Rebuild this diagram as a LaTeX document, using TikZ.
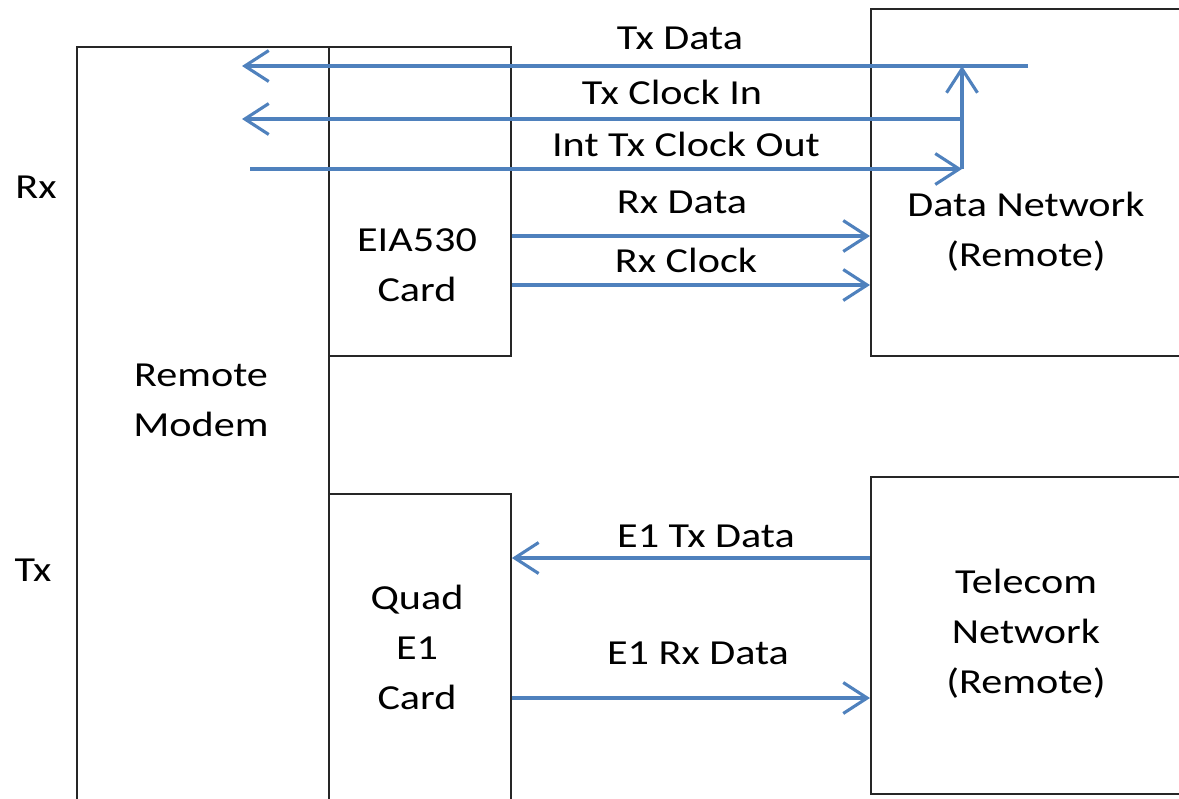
\documentclass[tikz,border=0pt]{standalone}
\usepackage{fontspec}
\setmainfont{Carlito}[FakeStretch=1.2]
\usepackage{xcolor}
\usepackage{tikz}
\usetikzlibrary{positioning, arrows.meta}
\definecolor{linkblue}{RGB}{79,129,189}

\begin{document}
\begin{tikzpicture}[x=0.025cm, y=-0.025cm, font=\fontsize{25}{35.5}\selectfont,
		box/.style={rectangle, draw=black!85, line width=1.3pt, inner sep=0pt, anchor=north west},
		sig/.style={draw=linkblue, line width=2.2pt, -{Straight Barb[length=17pt, width=22pt, line width=2.2pt]}},
		tag/.style={inner sep=0pt, align=center},
		lbl/.style={inner sep=0pt, anchor=base}]
		\useasboundingbox (0,0) rectangle (1179,798);
		\clip (0,0) rectangle (1179,798);
		
		% boxes
		\node[box, minimum width=6.3cm, minimum height=20cm] (modem) at (76,46) {};
		\node[box, minimum width=4.55cm, minimum height=7.725cm] (eia) at (328,46) {};
		\node[box, minimum width=4.55cm, minimum height=8cm] (quad) at (328,493) {};
		\node[box, minimum width=8.5cm, minimum height=8.675cm] (data) at (870,8) {};
		\node[box, minimum width=8.5cm, minimum height=7.925cm] (telecom) at (870,476) {};
		
		\node[tag] (modemtxt) at (201,400) {Remote\\Modem};
		\node[tag] (eiatxt) at (417,265) {EIA530\\Card};
		\node[tag] (quadtxt) at (417,647) {Quad\\E1\\Card};
		\node[tag] (datatxt) at (1026,232) {Data Network\\(Remote)};
		\node[tag] (teltxt) at (1026,634) {Telecom\\Network\\(Remote)};
		\node[tag] (rx) at (36,187) {Rx};
		\node[tag] (tx) at (33,570) {Tx};
		
		% clock and data lines
		\coordinate (txdin) at (1028,66);
		\coordinate (txdend) at (242,66);
		\coordinate (clkin) at (962,119);
		\coordinate (clkend) at (242,119);
		\coordinate (clkout) at (250,169);
		\coordinate (turn) at (962,169);
		
		\draw[sig] (txdin) -- (txdend);
		\draw[sig] (clkin) -- (clkend);
		\draw[sig] (clkout) -- (turn);
		\draw[sig] (turn) -- (turn |- txdin);
		\draw[sig] (eia.east |- 0,236) -- (data.west |- 0,236);
		\draw[sig] (eia.east |- 0,285) -- (data.west |- 0,285);
		\draw[sig] (telecom.west |- 0,558) -- (quad.east |- 0,558);
		\draw[sig] (quad.east |- 0,698) -- (telecom.west |- 0,698);
		
		\node[lbl] (ltxd) at (680,49) {Tx Data};
		\node[lbl] (lclkin) at (672,104) {Tx Clock In};
		\node[lbl] (lclkout) at (686,156) {Int Tx Clock Out};
		\node[lbl] (lrxd) at (682,213) {Rx Data};
		\node[lbl] (lrxclk) at (686,272) {Rx Clock};
		\node[lbl] (le1tx) at (706,547) {E1 Tx Data};
		\node[lbl] (le1rx) at (698,664) {E1 Rx Data};
		\end{tikzpicture}
\end{document}
